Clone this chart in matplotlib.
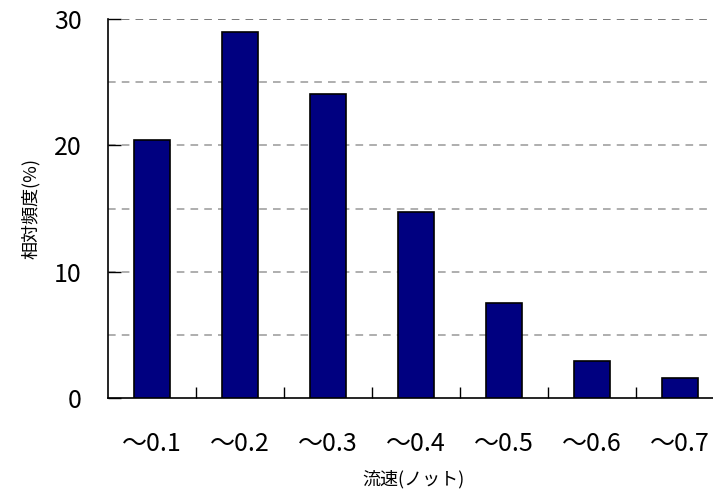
import matplotlib.pyplot as plt
import numpy as np

plt.rcParams['font.family'] = ['Noto Sans CJK JP', 'DejaVu Sans']

categories = ['～0.1', '～0.2', '～0.3', '～0.4', '～0.5', '～0.6', '～0.7']
values = [20.4, 29.0, 24.1, 14.7, 7.55, 2.93, 1.55]
y_ticks = [0, 10, 20, 30]

fig = plt.figure(figsize=(7.13, 4.94), dpi=100)
ax = fig.add_axes([108 / 713, 96 / 494, 616 / 713, 379 / 494])

x = np.arange(len(categories))
ax.bar(x, values, width=0.42, color='#000080', edgecolor='black', linewidth=1.2, zorder=3)

ax.set_xlim(-0.5, len(categories) - 0.5)
ax.set_ylim(0, 30)

# dashed grid every 5
for g in range(5, 31, 5):
    ax.axhline(g, color='#999999' if g < 30 else '#555555', linestyle=(0, (5, 4)), linewidth=1.1, zorder=1)

ax.set_yticks(y_ticks)
ax.set_yticklabels([str(t) for t in y_ticks], fontsize=18)
ax.tick_params(axis='y', direction='in', length=9, width=1, pad=19)

ax.set_xticks(x)
ax.set_xticklabels(categories, fontsize=18)
ax.set_xticks(x[:-1] + 0.5, minor=True)
ax.tick_params(axis='x', which='major', length=0, pad=24)
ax.tick_params(axis='x', which='minor', direction='in', length=8, width=1)

for side in ['top', 'right']:
    ax.spines[side].set_visible(False)
ax.spines['left'].set_linewidth(1.2)
ax.spines['bottom'].set_linewidth(1.2)

ax.set_ylabel('相対頻度(%)', fontsize=13)
ax.yaxis.set_label_coords(-68 / 616, 0.5)
ax.set_xlabel('流速(ノット)', fontsize=13)
ax.xaxis.set_label_coords(305 / 616, -72 / 379)

fig.savefig('out.png', dpi=100)
